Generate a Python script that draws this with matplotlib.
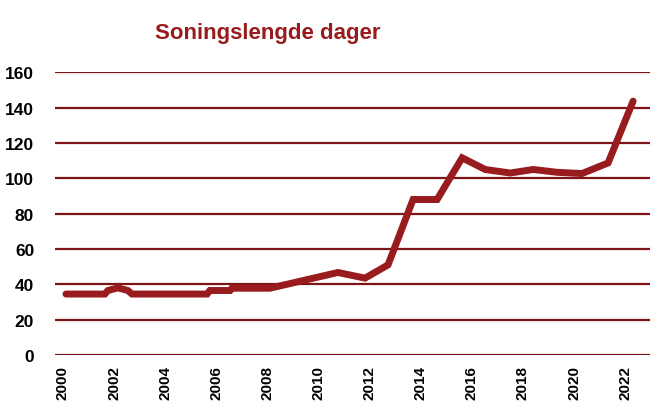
# Soningslengde i dager, 2000-2022
import matplotlib
matplotlib.use("Agg")
import matplotlib.pyplot as plt

# punkter lest av fra bildet (år, dager)
aar = [2000.12, 2001.64, 2001.76, 2002.15, 2002.54, 2002.70, 2005.64, 2005.75,
       2006.54, 2006.61, 2008.10, 2010.76, 2011.82, 2012.72, 2013.70, 2014.64,
       2015.62, 2016.52, 2017.50, 2018.40, 2019.33, 2020.31, 2021.33, 2022.31]
dager = [34.5, 34.5, 36.5, 38.0, 36.5, 34.5, 34.5, 36.5,
         36.5, 37.8, 37.8, 46.7, 43.5, 51.0, 88.0, 88.0,
         111.6, 105.0, 103.0, 105.0, 103.4, 102.7, 108.7, 143.7]

xticks = list(range(2000, 2023, 2))
yticks = list(range(0, 161, 20))

rod = "#981b1e"
gridfarge = "#7d1416"

plt.rcParams['font.family'] = ['Liberation Sans', 'DejaVu Sans']

fig = plt.figure(figsize=(6.5, 4.02), dpi=100)
ax = fig.add_axes([55/650, (402-356)/402, 595/650, (356-73.3)/402])

ax.plot(aar, dager, color=rod, lw=5, solid_capstyle='round',
        solid_joinstyle='miter', zorder=3)

ax.set_xlim(1999.69, 2022.97)
ax.set_ylim(0, 160)
ax.set_xticks(xticks)
ax.set_yticks(yticks)
ax.set_xticklabels([str(t) for t in xticks], rotation=90, fontsize=11,
                   fontweight='bold', va='top')
ax.set_yticklabels([str(t) for t in yticks], fontsize=12.5, fontweight='bold')
ax.tick_params(axis='both', length=0)
ax.tick_params(axis='x', pad=7)
ax.tick_params(axis='y', pad=15)

ax.grid(axis='y', color=gridfarge, lw=1.6)
ax.set_axisbelow(True)
for s in ax.spines.values():
    s.set_visible(False)

fig.text(268/650, 1 - 33/402, "Soningslengde dager", color=rod, fontsize=16,
         fontweight='bold', ha='center', va='center')

fig.savefig("out.png", dpi=100)
